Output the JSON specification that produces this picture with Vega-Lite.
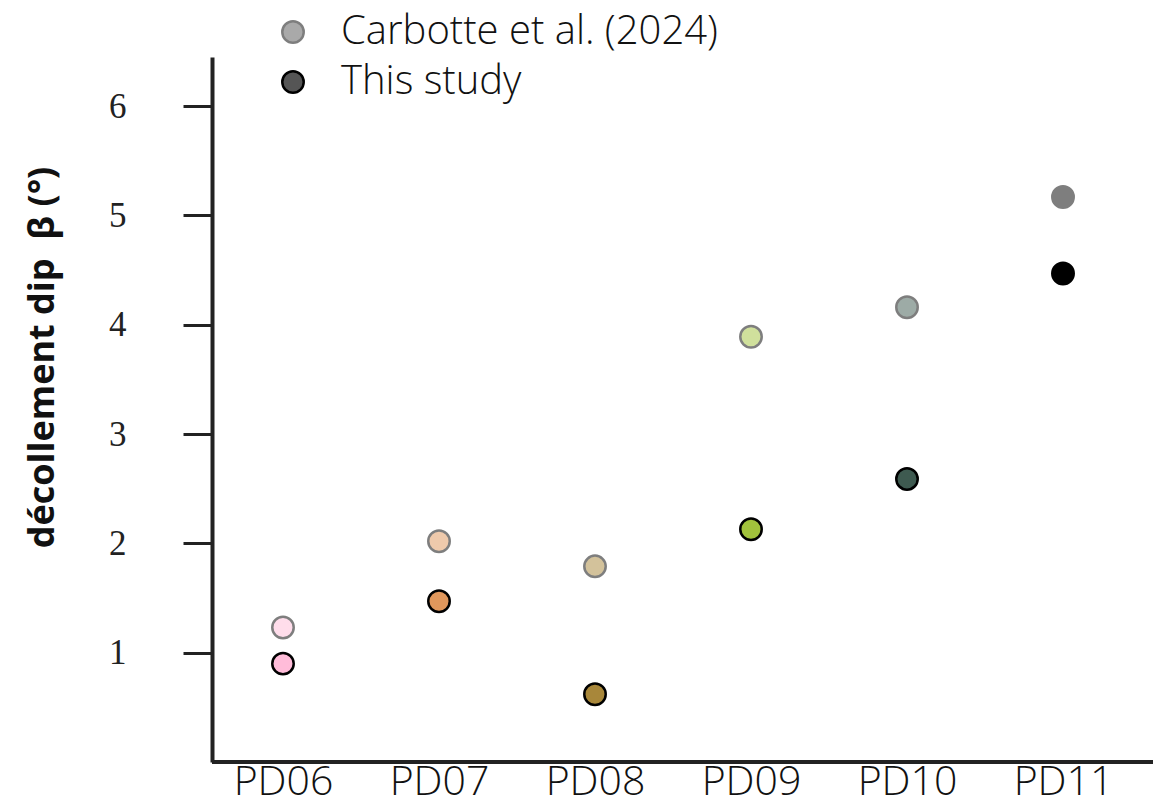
{
  "$schema": "https://vega.github.io/schema/vega-lite/v6.json",
  "autosize": "none",
  "width": 941,
  "height": 705,
  "padding": {"left": 212, "top": 57, "right": 0, "bottom": 44},
  "background": "white",
  "config": {"view": {"stroke": null}},
  "data": {
    "values": [
      {"site": "PD06", "study": "Carbotte et al. (2024)", "dip": 1.23},
      {"site": "PD07", "study": "Carbotte et al. (2024)", "dip": 2.02},
      {"site": "PD08", "study": "Carbotte et al. (2024)", "dip": 1.79},
      {"site": "PD09", "study": "Carbotte et al. (2024)", "dip": 3.89},
      {"site": "PD10", "study": "Carbotte et al. (2024)", "dip": 4.16},
      {"site": "PD11", "study": "Carbotte et al. (2024)", "dip": 5.17},
      {"site": "PD06", "study": "This study", "dip": 0.9},
      {"site": "PD07", "study": "This study", "dip": 1.47},
      {"site": "PD08", "study": "This study", "dip": 0.62},
      {"site": "PD09", "study": "This study", "dip": 2.13},
      {"site": "PD10", "study": "This study", "dip": 2.59},
      {"site": "PD11", "study": "This study", "dip": 4.47}
    ]
  },
  "layer": [
    {
      "mark": {"type": "rule", "color": "#222", "strokeWidth": 4},
      "encoding": {"y": {"datum": 0, "type": "quantitative", "scale": {"domain": [0, 6.45]}}}
    },
    {
      "mark": {"type": "point", "shape": "circle", "filled": true, "size": 460, "stroke": "#000", "strokeWidth": 2.5},
      "encoding": {
        "x": {
          "field": "site", "type": "ordinal",
          "scale": {"type": "point", "range": [71, 851], "padding": 0},
          "axis": {"title": null, "domain": false, "ticks": false, "labelPadding": 0, "labelFont": "Open Sans", "labelFontWeight": 300, "labelFontSize": 41, "labelColor": "#111", "labelAngle": 0}
        },
        "y": {
          "field": "dip", "type": "quantitative",
          "scale": {"domain": [0, 6.45], "nice": false, "zero": false},
          "axis": {
            "title": "décollement dip\u00a0\u00a0β (°)",
            "values": [1, 2, 3, 4, 5, 6],
            "format": "d",
            "grid": false,
            "domainColor": "#222", "domainWidth": 4,
            "tickColor": "#222", "tickWidth": 3, "tickSize": 29,
            "labelPadding": 57, "labelFont": "Liberation Serif", "labelFontSize": 35, "labelColor": "#222",
            "titleFont": "Open Sans", "titleFontWeight": "bold", "titleFontSize": 36, "titleColor": "#111",
            "titleAngle": -90, "titleX": -170, "titleY": 300, "titleAlign": "center", "titleBaseline": "middle"
          }
        },
        "fill": {
          "field": "site", "type": "nominal",
          "scale": {"domain": ["PD06", "PD07", "PD08", "PD09", "PD10", "PD11"], "range": ["#ffbcd9", "#e0975c", "#a8873a", "#a2c23c", "#3e5a50", "#000000"]},
          "legend": null
        },
        "opacity": {
          "field": "study", "type": "nominal",
          "scale": {"domain": ["Carbotte et al. (2024)", "This study"], "range": [0.5, 1]},
          "legend": {
            "title": null, "orient": "none", "legendX": 61, "legendY": -45,
            "symbolType": "circle", "symbolSize": 460, "symbolFillColor": "#555", "symbolStrokeColor": "#000", "symbolStrokeWidth": 2.5,
            "labelFont": "Open Sans", "labelFontWeight": 300, "labelFontSize": 40, "labelColor": "#111", "labelOffset": 28, "labelLimit": 0,
            "rowPadding": 10
          }
        }
      }
    }
  ]
}
